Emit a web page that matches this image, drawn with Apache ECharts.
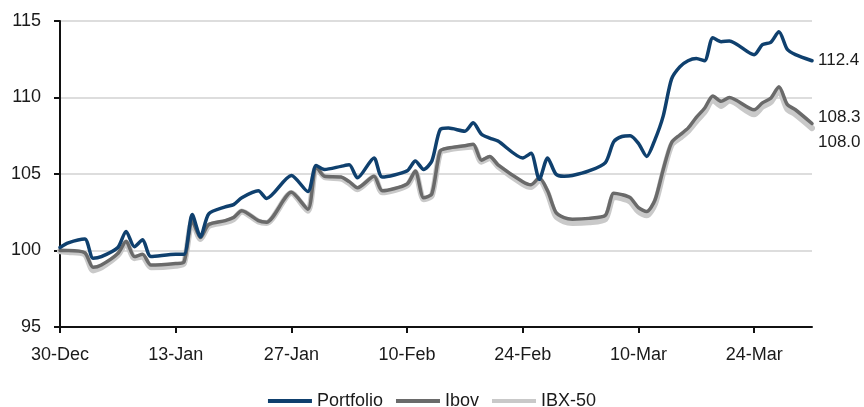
<!DOCTYPE html>
<html>
<head>
<meta charset="utf-8">
<script src="https://cdn.jsdelivr.net/npm/echarts@6/dist/echarts.min.js"></script>
<style>
  html, body { margin: 0; padding: 0; background: #fff; }
  #chart { width: 864px; height: 407px; }
</style>
</head>
<body>
<div id="chart"></div>
<script>
// Days elapsed since 30-Dec for each observation
const days = [0, 1, 3, 4, 5, 7, 8, 9, 10, 11, 14, 15, 16, 17, 18, 20, 21, 22, 24, 25,
  28, 30, 31, 32, 34, 35, 36, 38, 39, 42, 43, 44, 45, 46, 47, 49, 50, 51, 52, 53,
  56, 57, 58, 59, 60, 61, 62, 64, 66, 67, 68, 69, 70, 71, 72, 73, 74, 75, 76, 77,
  78, 79, 80, 81, 84, 85, 86, 87, 88, 89, 91];

// Rebased performance (30-Dec = 100)
const portfolio = [100.2, 100.5, 100.75, 99.5, 99.6, 100.2, 101.25, 100.25, 100.7, 99.6,
  99.75, 99.75, 102.35, 100.9, 102.4, 102.85, 103.0, 103.45, 103.9, 103.4,
  104.9, 103.85, 105.55, 105.3, 105.5, 105.6, 104.75, 106.05, 104.8, 105.2,
  105.85, 105.3, 105.85, 107.9, 108.0, 107.8, 108.35, 107.6, 107.35, 107.15,
  106.05, 106.35, 104.65, 106.05, 105.0, 104.85, 104.9, 105.2, 105.75, 107.1,
  107.45, 107.5, 107.0, 106.15, 107.25, 108.8, 111.2, 112.0, 112.4, 112.55,
  112.4, 113.9, 113.65, 113.7, 112.8, 113.45, 113.6, 114.3, 113.15, 112.8, 112.4];

const ibov = [100.0, 100.0, 99.85, 98.9, 99.05, 99.8, 100.6, 99.6, 99.75, 99.05,
  99.15, 99.25, 101.95, 100.85, 101.7, 101.95, 102.15, 102.6, 101.95, 101.85,
  103.8, 102.7, 105.5, 104.85, 104.8, 104.5, 104.1, 104.85, 103.9, 104.35,
  105.2, 103.45, 103.7, 106.5, 106.7, 106.85, 106.95, 105.9, 106.15, 105.6,
  104.5, 104.3, 104.75, 103.9, 102.5, 102.15, 102.05, 102.1, 102.3, 103.75,
  103.65, 103.45, 102.8, 102.55, 103.3, 105.3, 107.05, 107.55, 108.0, 108.7,
  109.3, 110.1, 109.75, 110.0, 109.2, 109.65, 109.95, 110.7, 109.55, 109.2, 108.3];

const ibx50 = [99.95, 99.9, 99.75, 98.7, 98.9, 99.7, 100.5, 99.5, 99.6, 98.9,
  99.0, 99.15, 101.9, 100.75, 101.6, 101.85, 102.05, 102.55, 101.9, 101.8,
  103.75, 102.6, 105.45, 104.8, 104.7, 104.4, 104.0, 104.8, 103.8, 104.25,
  105.1, 103.35, 103.6, 106.4, 106.6, 106.75, 106.8, 105.8, 106.05, 105.5,
  104.35, 104.15, 104.6, 103.75, 102.25, 101.9, 101.8, 101.85, 102.05, 103.5,
  103.4, 103.2, 102.55, 102.3, 103.05, 105.1, 106.9, 107.35, 107.8, 108.45,
  109.05, 109.85, 109.45, 109.8, 108.9, 109.4, 109.7, 110.45, 109.25, 108.9, 108.0];

// Date axis ticks, every 14 days
const tickDays = [0, 14, 28, 42, 56, 70, 84];
const tickLabels = ['30-Dec', '13-Jan', '27-Jan', '10-Feb', '24-Feb', '10-Mar', '24-Mar'];

const FONT = "'Liberation Sans', Arial, sans-serif";
const pairs = vals => days.map((d, i) => [d, vals[i]]);

function makeSeries(name, vals, color, width, z, labelOffset) {
  return {
    name: name,
    type: 'line',
    data: pairs(vals),
    showSymbol: false,
    smooth: 0.25,
    z: z,
    lineStyle: { color: color, width: width, cap: 'round', join: 'round' },
    itemStyle: { color: color },
    endLabel: {
      show: true,
      formatter: p => p.value[1].toFixed(1),
      color: '#1a1a1a',
      fontFamily: FONT,
      fontSize: 17,
      distance: 6,
      offset: labelOffset
    },
    emphasis: { disabled: true }
  };
}

const chart = echarts.init(document.getElementById('chart'));
chart.setOption({
  animation: false,
  backgroundColor: '#fff',
  grid: { left: 60, right: 52, top: 21, bottom: 80, containLabel: false },
  xAxis: {
    type: 'value',
    min: 0,
    max: 91,
    axisLine: { show: true, lineStyle: { color: '#111', width: 2 } },
    axisTick: { show: true, customValues: tickDays, length: 6, lineStyle: { color: '#111', width: 2 } },
    axisLabel: {
      customValues: tickDays,
      formatter: v => tickLabels[tickDays.indexOf(v)] || '',
      color: '#1a1a1a', fontFamily: FONT, fontSize: 18, margin: 19
    },
    splitLine: { show: false }
  },
  yAxis: {
    type: 'value',
    min: 95,
    max: 115,
    interval: 5,
    axisLine: { show: true, lineStyle: { color: '#111', width: 2 } },
    axisTick: { show: true, length: 6, lineStyle: { color: '#111', width: 2 } },
    axisLabel: { color: '#1a1a1a', fontFamily: FONT, fontSize: 18, margin: 19 },
    splitLine: { show: true, lineStyle: { color: '#d2d2d2', width: 1.5 } }
  },
  legend: {
    data: ['Portfolio', 'Ibov', 'IBX-50'],
    left: 'center',
    top: 387,
    icon: 'rect',
    itemWidth: 44,
    itemHeight: 4,
    itemGap: 13,
    textStyle: { color: '#1a1a1a', fontFamily: FONT, fontSize: 18 }
  },
  series: [
    makeSeries('IBX-50', ibx50, '#c9c9c9', 6, 2, [0, 14]),
    makeSeries('Ibov', ibov, '#6a6a6a', 3.5, 3, [0, -6]),
    makeSeries('Portfolio', portfolio, '#0f406e', 3.5, 4, [0, 0])
  ]
});
</script>
</body>
</html>
